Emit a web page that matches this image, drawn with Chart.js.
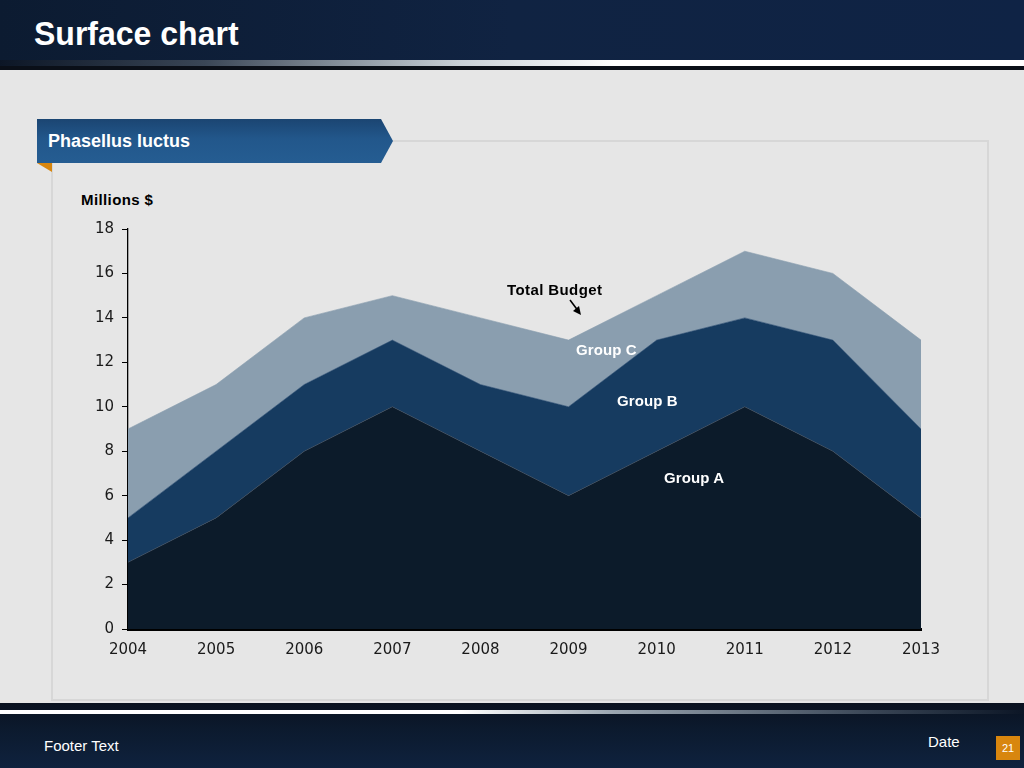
<!DOCTYPE html>
<html><head><meta charset="utf-8">
<script src="https://cdn.jsdelivr.net/npm/chart.js@4.4.1/dist/chart.umd.min.js"></script>
<style>
html,body{margin:0;padding:0;width:1024px;height:768px;overflow:hidden;background:#e6e6e6;font-family:"Liberation Sans",Arial,sans-serif;}
#header{position:absolute;left:0;top:0;width:1024px;height:60px;background:linear-gradient(90deg,#0c1b31 0%,#102342 50%,#0f2345 100%);}
#hstripe{position:absolute;left:0;top:60px;width:1024px;height:6px;background:linear-gradient(90deg,#0c1626 0%,#3a4656 20%,#c9d0d6 45%,#ffffff 60%,#ffffff 100%);}
#hblack{position:absolute;left:0;top:66px;width:1024px;height:4px;background:#0a0f18;}
#title{position:absolute;left:34px;top:15px;color:#fff;font-weight:bold;font-size:33px;font-family:"Liberation Sans",Arial,sans-serif;transform:scaleX(0.97);transform-origin:0 0;letter-spacing:0px;}
#panel{position:absolute;left:51px;top:140px;width:934px;height:557px;border:2px solid #d7d7d7;background:#e6e6e6;}
#banner{position:absolute;left:37px;top:119px;width:356px;height:44px;background:linear-gradient(180deg,#1b4572 0%,#22578b 45%,#255d92 100%);clip-path:polygon(0 0,344px 0,356px 22px,344px 44px,0 44px);}
#bannertxt{position:absolute;left:48px;top:131px;color:#fff;font-weight:bold;font-size:18px;}
#tri{position:absolute;left:37px;top:163px;width:0;height:0;border-top:9px solid #d8860e;border-left:15px solid transparent;}
#ytitle{position:absolute;left:81px;top:191px;font-weight:bold;font-size:15px;letter-spacing:0.4px;color:#000;}
#footer{position:absolute;left:0;top:703px;width:1024px;height:65px;background:linear-gradient(180deg,#0a1220 0%,#0c1a2e 40%,#0f223e 100%);}
#fstripe{position:absolute;left:0;top:710px;width:1024px;height:4px;background:linear-gradient(90deg,#ffffff 0%,#ffffff 45%,#9aa5b0 60%,#3a4656 85%,#0c1626 100%);}
#ftext{position:absolute;left:44px;top:737px;color:#fff;font-size:15px;font-family:"Liberation Sans",Arial,sans-serif;}
#fdate{position:absolute;left:928px;top:733px;color:#fff;font-size:15px;font-family:"Liberation Sans",Arial,sans-serif;}
#fnum{position:absolute;left:996px;top:736px;width:24px;height:24px;background:#d8860e;color:#fff;font-size:11px;text-align:center;line-height:24px;}
#wrap{position:absolute;left:60px;top:190px;width:900px;height:490px;}
.ann{position:absolute;font-weight:bold;font-size:15px;letter-spacing:0.1px;white-space:nowrap;}
</style></head>
<body>
<div id="header"></div><div id="hstripe"></div><div id="hblack"></div>
<div id="title">Surface chart</div>
<div id="panel"></div>
<div id="banner"></div><div id="bannertxt">Phasellus luctus</div><div id="tri"></div>
<div id="ytitle">Millions $</div>
<div id="wrap"><canvas id="c" width="900" height="490"></canvas></div>
<div class="ann" style="left:507px;top:281px;color:#000;letter-spacing:0.4px;">Total Budget</div>
<svg style="position:absolute;left:565px;top:298px;" width="22" height="20"><line x1="5" y1="2" x2="14" y2="14" stroke="#000" stroke-width="1.6"/><polygon points="16,17 8,13 14,8" fill="#000"/></svg>
<div class="ann" style="left:576px;top:341px;color:#fff;">Group C</div>
<div class="ann" style="left:617px;top:392px;color:#fff;">Group B</div>
<div class="ann" style="left:664px;top:469px;color:#fff;">Group A</div>
<div id="footer"></div><div id="fstripe"></div>
<div id="ftext">Footer Text</div><div id="fdate">Date</div><div id="fnum">21</div>
<script>
const years = ["2004","2005","2006","2007","2008","2009","2010","2011","2012","2013"];
const groupA = [3,5,8,10,8,6,8,10,8,5];
const groupB = [2,3,3,3,3,4,5,4,5,4];
const groupC = [4,3,3,2,3,3,2,3,3,4];
const yTicks = [0,2,4,6,8,10,12,14,16,18];

const tickFont = {size:15, family:'"DejaVu Sans", Verdana, sans-serif'};
new Chart(document.getElementById('c'), {
  type: 'line',
  data: {
    labels: years,
    datasets: [
      {label:'Group A', data:groupA, fill:'origin', backgroundColor:'#0c1b2a', borderColor:'#3a4a5c', borderWidth:0.6, pointRadius:0, tension:0},
      {label:'Group B', data:groupB, fill:'-1', backgroundColor:'#163b60', borderColor:'#2d4f73', borderWidth:0.6, pointRadius:0, tension:0},
      {label:'Group C', data:groupC, fill:'-1', backgroundColor:'#8a9eaf', borderColor:'#8a9eaf', borderWidth:0.6, pointRadius:0, tension:0}
    ]
  },
  options: {
    responsive:false, animation:false,
    layout:{padding:{top:39,right:39,left:0,bottom:0}},
    plugins:{legend:{display:false}, tooltip:{enabled:false}},
    scales:{
      x:{
        offset:false,
        grid:{display:true, drawOnChartArea:false, drawTicks:false},
        border:{display:true, color:'#000', width:3},
        ticks:{color:'#1a1a1a', font:tickFont, padding:12, maxRotation:0},
        afterFit:(s)=>{s.height=51;}
      },
      y:{
        stacked:true, min:0, max:18,
        afterBuildTicks:(s)=>{s.ticks = yTicks.map(v=>({value:v}));},
        grid:{display:true, drawOnChartArea:false, drawTicks:true, tickLength:6, color:'#000'},
        border:{display:true, color:'#000', width:1.3},
        ticks:{color:'#1a1a1a', font:tickFont, padding:8},
        afterFit:(s)=>{s.width=68;}
      }
    }
  }
});
</script>
</body></html>
